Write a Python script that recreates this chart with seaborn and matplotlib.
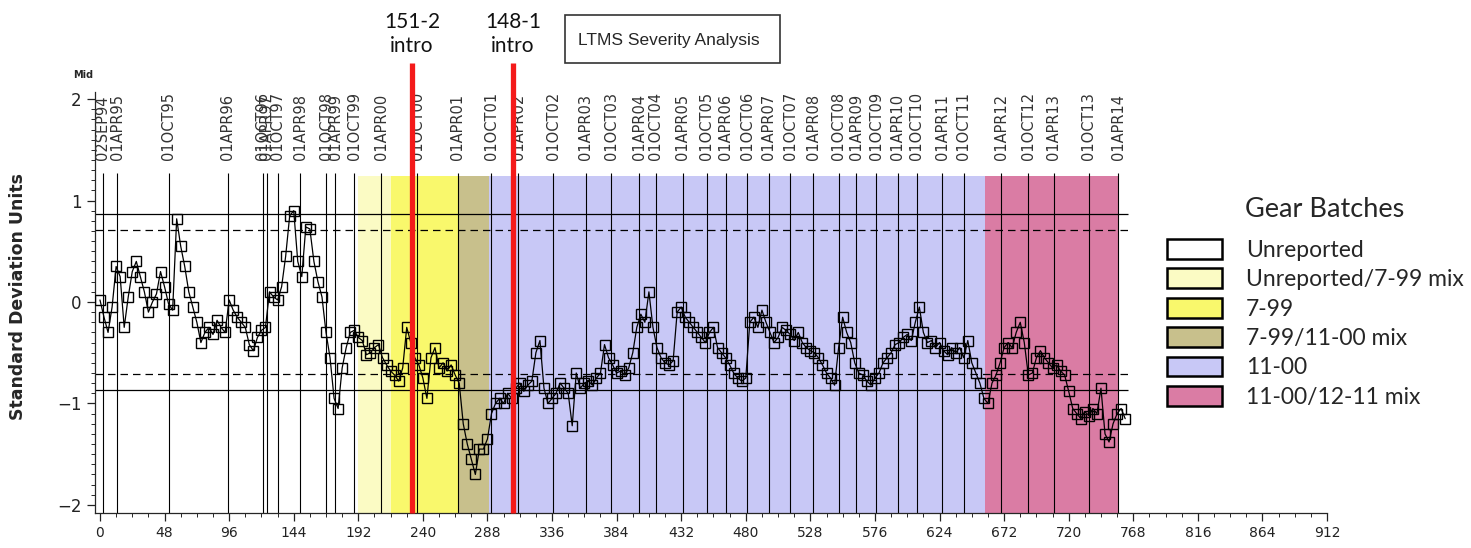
import numpy as np
import pandas as pd
import matplotlib
matplotlib.use("Agg")
import matplotlib.pyplot as plt
from matplotlib.patches import Patch, Rectangle
from matplotlib.ticker import MultipleLocator
import seaborn as sns

# ---------------------------------------------------------------- data
test_step = 3
severity = [
    0.02, -0.15, -0.30, -0.05, 0.35, 0.25, -0.25, 0.05, 0.30, 0.40,
    0.25, 0.10, -0.10, 0.00, 0.08, 0.30, 0.15, -0.02, -0.08, 0.82,
    0.55, 0.35, 0.10, -0.05, -0.20, -0.40, -0.30, -0.25, -0.32, -0.18,
    -0.25, -0.30, 0.02, -0.08, -0.15, -0.20, -0.25, -0.42, -0.48, -0.35,
    -0.28, -0.25, 0.10, 0.05, 0.02, 0.15, 0.45, 0.85, 0.90, 0.40,
    0.25, 0.74, 0.72, 0.40, 0.20, 0.05, -0.30, -0.55, -0.95, -1.05,
    -0.65, -0.45, -0.30, -0.28, -0.35, -0.38, -0.52, -0.50, -0.45, -0.42,
    -0.55, -0.62, -0.68, -0.72, -0.78, -0.65, -0.25, -0.40, -0.55, -0.62,
    -0.75, -0.95, -0.55, -0.45, -0.65, -0.60, -0.68, -0.62, -0.72, -0.80,
    -1.20, -1.40, -1.55, -1.70, -1.45, -1.45, -1.35, -1.10, -1.00, -0.95,
    -1.00, -0.90, -0.95, -0.85, -0.80, -0.88, -0.82, -0.78, -0.50, -0.38,
    -0.85, -1.00, -0.95, -0.90, -0.80, -0.85, -0.90, -1.22, -0.70, -0.85,
    -0.80, -0.78, -0.82, -0.75, -0.70, -0.42, -0.55, -0.62, -0.70, -0.68,
    -0.72, -0.65, -0.50, -0.25, -0.12, -0.20, 0.10, -0.25, -0.45, -0.55,
    -0.60, -0.62, -0.58, -0.10, -0.05, -0.15, -0.20, -0.25, -0.30, -0.35,
    -0.40, -0.30, -0.25, -0.45, -0.50, -0.55, -0.62, -0.70, -0.75, -0.78,
    -0.75, -0.20, -0.15, -0.25, -0.08, -0.20, -0.30, -0.40, -0.35, -0.25,
    -0.28, -0.32, -0.38, -0.30, -0.40, -0.45, -0.48, -0.50, -0.55, -0.62,
    -0.70, -0.75, -0.82, -0.45, -0.15, -0.30, -0.40, -0.60, -0.70, -0.72,
    -0.78, -0.82, -0.75, -0.70, -0.60, -0.55, -0.50, -0.42, -0.40, -0.35,
    -0.32, -0.38, -0.20, -0.05, -0.30, -0.40, -0.38, -0.45, -0.40, -0.48,
    -0.52, -0.45, -0.50, -0.45, -0.55, -0.38, -0.60, -0.70, -0.80, -0.95,
    -1.00, -0.80, -0.72, -0.60, -0.45, -0.40, -0.45, -0.30, -0.20, -0.40,
    -0.72, -0.70, -0.55, -0.48, -0.55, -0.60, -0.65, -0.62, -0.68, -0.72,
    -0.88, -1.05, -1.10, -1.15, -1.08, -1.12, -1.05, -1.10, -0.85, -1.30,
    -1.38, -1.20, -1.10, -1.05, -1.15,
]
test_no = np.arange(len(severity)) * test_step

date_labels = [
    "02SEP94", "01APR95", "01OCT95", "01APR96", "01OCT96", "01APR97",
    "01OCT97", "01APR98", "01OCT98", "01APR99", "01OCT99", "01APR00",
    "01OCT00", "01APR01", "01OCT01", "01APR02", "01OCT02", "01APR03",
    "01OCT03", "01APR04", "01OCT04", "01APR05", "01OCT05", "01APR06",
    "01OCT06", "01APR07", "01OCT07", "01APR08", "01OCT08", "01APR09",
    "01OCT09", "01APR10", "01OCT10", "01APR11", "01OCT11", "01APR12",
    "01OCT12", "01APR13", "01OCT13", "01APR14",
]
date_tests = [
    2, 13, 51, 95, 121, 124, 132, 149, 168, 175, 189, 209,
    236, 266, 291, 311, 337, 361, 380, 401, 413, 433, 451, 465,
    481, 497, 513, 530, 549, 562, 577, 593, 607, 626, 642, 670,
    690, 709, 735, 757,
]

batch_names = ["Unreported", "Unreported/7-99 mix", "7-99",
               "7-99/11-00 mix", "11-00", "11-00/12-11 mix"]
batch_start = [-4, 192, 216, 266, 289, 658]
batch_end = [192, 216, 266, 289, 658, 757]
batch_colors = ["#FFFFFF", "#FBFBC4", "#F9F86C", "#C8C08C", "#C8C8F6", "#DA7CA4"]

intro_labels = ["151-2\nintro", "148-1\nintro"]
intro_tests = [232, 307]

outer_limit = 0.87
inner_limit = 0.71

# ---------------------------------------------------------------- figure
sns.set_style("ticks")
plt.rcParams["font.family"] = ["DejaVu Sans"]

fig = plt.figure(figsize=(14.71, 5.48), dpi=100)
ax = fig.add_axes([95 / 1471, 35 / 548, (1327 - 95) / 1471, (513 - 92) / 548])
ymin, ymax = -2.08, 2.07
xmin, xmax = -3.7, 912
ax.set_xlim(xmin, xmax)
ax.set_ylim(ymin, ymax)

band_top = 1.24
for s, e, c in zip(batch_start, batch_end, batch_colors):
    ax.fill_between([s, e], ymin, band_top, color=c, lw=0, zorder=0)

ax.vlines(date_tests, ymin, 1.27, color="black", lw=0.8, zorder=1)
for xd, lab in zip(date_tests, date_labels):
    ax.text(xd, 1.40, lab, rotation=90, ha="center", va="bottom",
            fontsize=10.5, color="#333333")

line_end = 764
for lvl in (outer_limit, -outer_limit):
    ax.hlines(lvl, xmin, line_end, color="black", lw=0.9, zorder=2)
for lvl in (inner_limit, -inner_limit):
    ax.hlines(lvl, xmin, line_end, color="black", lw=0.9,
              linestyles=(0, (6, 4)), zorder=2)

df = pd.DataFrame({"test": test_no, "sd": severity})
sns.lineplot(data=df, x="test", y="sd", ax=ax, color="black", lw=0.9,
             marker="s", markersize=7, markerfacecolor="none",
             markeredgecolor="black", markeredgewidth=1.0, zorder=3,
             sort=False, estimator=None)

for xi in intro_tests:
    ax.vlines(xi, ymin, 2.36, color="#F41A1A", lw=3.8, zorder=5, clip_on=False)

ax.set_xticks(np.arange(0, 913, 48))
ax.xaxis.set_minor_locator(MultipleLocator(12))
ax.set_yticks([-2, -1, 0, 1, 2])
ax.yaxis.set_minor_locator(MultipleLocator(0.1))
ax.tick_params(axis="both", which="major", length=6, width=0.9, labelsize=10,
               colors="#222222")
ax.tick_params(axis="both", which="minor", length=3, width=0.7)
ax.tick_params(axis="y", labelsize=12)
ax.set_xlabel("")
ax.set_ylabel("")
sns.despine(ax=ax)
for sp in ("left", "bottom"):
    ax.spines[sp].set_linewidth(0.9)

fig.text(18 / 1471, 1 - 296 / 548, "Standard Deviation Units", rotation=90,
         ha="center", va="center", fontsize=12.5, fontweight="bold")
fig.text(83 / 1471, 1 - 75 / 548, "Mid", ha="center", va="center",
         fontsize=7, fontweight="bold")

# intro annotations
for xi, lab in zip(intro_tests, intro_labels):
    px = 100 + xi * 1.345
    fig.text(px / 1471, 1 - 34 / 548, lab, ha="center", va="center",
             fontsize=15, family=["Lato", "DejaVu Sans"], linespacing=1.2,
             color="#111111")

# title box
fig.add_artist(Rectangle((565 / 1471, 1 - 63 / 548), 215 / 1471, 48 / 548,
                         transform=fig.transFigure, fill=False,
                         ec="#333333", lw=1.2))
fig.text(669 / 1471, 1 - 40 / 548, "LTMS Severity Analysis", ha="center",
         va="center", fontsize=12.5,
         family=["Liberation Sans", "DejaVu Sans"])

# legend
fig.text(1245 / 1471, 1 - 210 / 548, "Gear Batches", ha="left", va="center",
         fontsize=19.5, family=["Lato", "DejaVu Sans"])
handles = [Patch(facecolor=c, edgecolor="black", lw=1.8) for c in batch_colors]
fig.legend(handles, batch_names, loc="upper left",
           bbox_to_anchor=(1167 / 1471, 1 - 239 / 548), frameon=False,
           prop={"family": ["Lato", "DejaVu Sans"], "size": 16.5},
           handlelength=2.4, handleheight=0.96, handletextpad=1.05,
           labelspacing=0.33, borderpad=0, borderaxespad=0)

fig.savefig("out.png", dpi=100)
